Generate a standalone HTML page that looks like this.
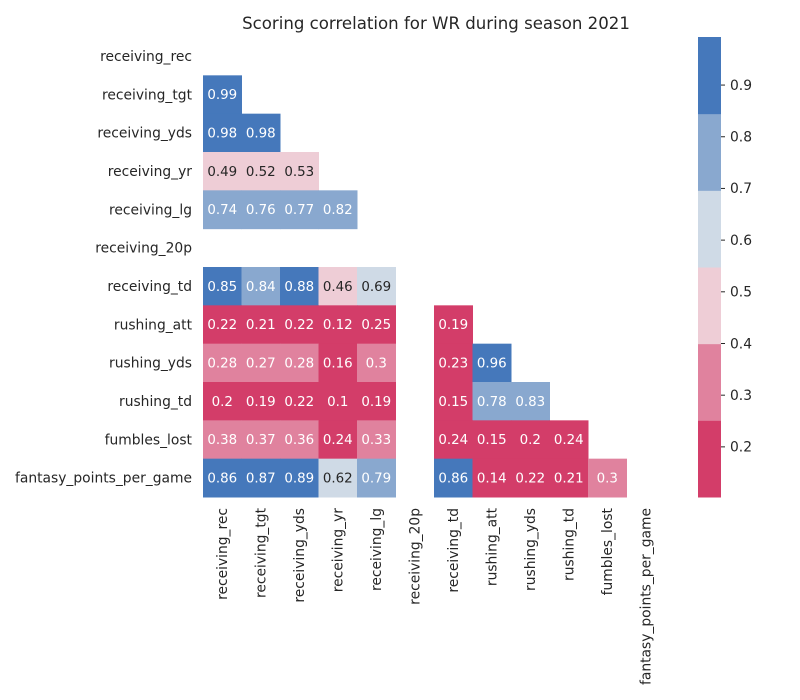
<!DOCTYPE html>
<html><head><meta charset="utf-8">
<style>
html,body{margin:0;padding:0;background:#fff;}
svg{display:block;font-family:"DejaVu Sans","Liberation Sans",sans-serif;}
</style></head>
<body>
<svg id="chart" width="800" height="700" viewBox="0 0 800 700" xmlns="http://www.w3.org/2000/svg">
<text x="436" y="29" text-anchor="middle" font-size="16.6" fill="#262626">Scoring correlation for WR during season 2021</text>
<g id="cells"></g><g id="ylabels"></g><g id="xlabels"></g><g id="cbar"></g>
</svg>
<script>
const labels = ["receiving_rec","receiving_tgt","receiving_yds","receiving_yr","receiving_lg","receiving_20p","receiving_td","rushing_att","rushing_yds","rushing_td","fumbles_lost","fantasy_points_per_game"];
const N = null;
const values = [
 [],
 [0.99],
 [0.98,0.98],
 [0.49,0.52,0.53],
 [0.74,0.76,0.77,0.82],
 [N,N,N,N,N],
 [0.85,0.84,0.88,0.46,0.69,N],
 [0.22,0.21,0.22,0.12,0.25,N,0.19],
 [0.28,0.27,0.28,0.16,0.3,N,0.23,0.96],
 [0.2,0.19,0.22,0.1,0.19,N,0.15,0.78,0.83],
 [0.38,0.37,0.36,0.24,0.33,N,0.24,0.15,0.2,0.24],
 [0.86,0.87,0.89,0.62,0.79,N,0.86,0.14,0.22,0.21,0.3]
];
const colorbarTicks = [0.2,0.3,0.4,0.5,0.6,0.7,0.8,0.9];
const vmin = 0.103, vmax = 0.993;
const palette = ["#d33d69","#e0829e","#eecdd6","#cfdae6","#89a8cf","#4578bb"];
const darkText = [false,false,true,true,false,false];

const NS="http://www.w3.org/2000/svg";
const x0=203, y0=37, cw=(665-203)/12, ch=(497-37)/12;
const LF=13.85;
const xs=i=>x0+i*cw, ys=i=>y0+i*ch;
function bin(v){let b=Math.floor((v-vmin)/(vmax-vmin)*6);return Math.max(0,Math.min(5,b));}
function mk(tag,attrs,parent){const e=document.createElementNS(NS,tag);for(const k in attrs)e.setAttribute(k,attrs[k]);parent.appendChild(e);return e;}

const cells=document.getElementById('cells');
values.forEach((row,i)=>row.forEach((v,j)=>{
  if(v===null) return;
  const b=bin(v);
  const r=mk('rect',{x:xs(j),y:ys(i),width:cw+0.5,height:ch+0.5,fill:palette[b]},cells);
  
  
  const t=mk('text',{x:xs(j)+cw/2,y:ys(i)+ch/2+4.7,'text-anchor':'middle','font-size':13.4,fill:darkText[b]?'#262626':'#fff'},cells);
  t.textContent=String(v);
  
  
}));
const yl=document.getElementById('ylabels'), xl=document.getElementById('xlabels');
labels.forEach((l,i)=>{
  const t=mk('text',{x:192,y:ys(i)+ch/2+4.8,'text-anchor':'end','font-size':LF,fill:'#262626'},yl);
  t.textContent=l;
  
  
  const cx=xs(i)+cw/2+4.8;
  const u=mk('text',{x:cx,y:508,'text-anchor':'end','font-size':LF,fill:'#262626',transform:`rotate(-90 ${cx} 508)`},xl);
  u.textContent=l;
  
  
});
const cb=document.getElementById('cbar');
const cbTop=37,cbBot=497,cbX=698,cbW=23;
const cy=v=>cbBot-(v-vmin)/(vmax-vmin)*(cbBot-cbTop);
palette.forEach((c,k)=>{
  const h=(cbBot-cbTop)/6;
  const r=mk('rect',{x:cbX,y:cbBot-(k+1)*h,width:cbW,height:h+0.5,fill:c},cb);
  
  
});
colorbarTicks.forEach(v=>{
  const y=cy(v);
  const l=mk('line',{x1:721,x2:725,y1:y,y2:y,stroke:'#262626','stroke-width':1},cb);
  
  
  const t=mk('text',{x:730,y:y+4.8,'font-size':LF,fill:'#262626'},cb);
  t.textContent=v.toFixed(1);
  
  
});
</script>
</body></html>
